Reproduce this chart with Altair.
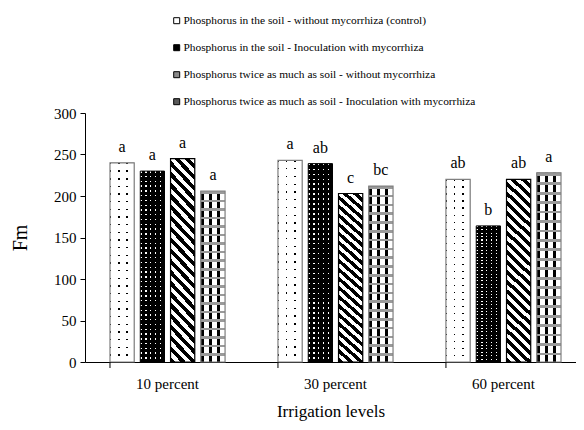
import altair as alt
import pandas as pd

irrigation = ["10 percent", "30 percent", "60 percent"]
series = [
    "Phosphorus in the soil - without mycorrhiza (control)",
    "Phosphorus in the soil - Inoculation with mycorrhiza",
    "Phosphorus twice as much as soil - without mycorrhiza",
    "Phosphorus twice as much as soil - Inoculation with mycorrhiza",
]
s1_values = [240, 243, 220]
s2_values = [230, 239, 164]
s3_values = [245, 203, 220]
s4_values = [206, 212, 228]
s1_letters = ["a", "a", "ab"]
s2_letters = ["a", "ab", "b"]
s3_letters = ["a", "c", "ab"]
s4_letters = ["a", "bc", "a"]
y_ticks = [0, 50, 100, 150, 200, 250, 300]

rows = []
for name, vals, lets in zip(series,
                            [s1_values, s2_values, s3_values, s4_values],
                            [s1_letters, s2_letters, s3_letters, s4_letters]):
    for irr, v, l in zip(irrigation, vals, lets):
        rows.append({"irrigation": irr, "series": name, "value": v, "letter": l})
df = pd.DataFrame(rows)
ticks_df = pd.DataFrame({"irrigation": irrigation})

FONT = "Liberation Serif"
CLEAR = "rgba(0,0,0,0)"


def bands(n, on, off, frac):
    stops = []
    for k in range(n):
        a = round(k / n, 5)
        b = round((k + frac) / n, 5)
        c = round((k + 1) / n, 5)
        stops += [{"offset": a, "color": on}, {"offset": b, "color": on},
                  {"offset": b, "color": off}, {"offset": c, "color": off}]
    return stops


def vgrad(stops):  # horizontal bands
    return {"gradient": "linear", "x1": 0, "y1": 0, "x2": 0, "y2": 1, "stops": stops}


def hgrad(stops):  # vertical bands
    return {"gradient": "linear", "x1": 0, "y1": 0, "x2": 1, "y2": 0, "stops": stops}


diag = {"gradient": "linear", "x1": 0, "y1": 1, "x2": 0.14, "y2": -0.108,
        "stops": bands(21, "black", "white", 0.5)}

x_scale = alt.Scale(domain=irrigation, paddingInner=0.315, paddingOuter=0.119, align=0.625)
x_axis = alt.Axis(title="Irrigation levels", ticks=False, labelAngle=0, labelFontSize=15,
                  labelFont=FONT, titleFont=FONT, labelFontWeight="normal",
                  labelPadding=14, titleFontSize=17, titlePadding=12, titleFontWeight="normal",
                  domainColor="black", labelColor="black", titleColor="black")
y_axis = alt.Axis(title="Fm", values=y_ticks, grid=False, labelFontSize=15, tickSize=5,
                  labelFont=FONT, titleFont=FONT, labelFontWeight="normal",
                  labelPadding=4, titleFontSize=20, titlePadding=23, titleFontWeight="normal",
                  domainColor="black", tickColor="black", labelColor="black", titleColor="black")

base = alt.Chart(df).encode(
    x=alt.X("irrigation:N", sort=irrigation, scale=x_scale, axis=x_axis),
    xOffset=alt.XOffset("series:N", sort=series,
                        scale=alt.Scale(domain=series, paddingInner=0.2, paddingOuter=0)),
    y=alt.Y("value:Q", scale=alt.Scale(domain=[0, 300]), axis=y_axis),
)

legend_layer = base.mark_bar().encode(
    color=alt.Color("series:N", sort=series,
                    scale=alt.Scale(domain=series, range=["white", "black", "#8a8a8a", "#5a5a5a"]),
                    legend=alt.Legend(title=None, orient="none", legendX=86, legendY=-98,
                                      direction="vertical", symbolType="square", symbolSize=36,
                                      symbolStrokeColor="black", symbolStrokeWidth=1,
                                      labelFont=FONT, labelFontSize=11.4, labelLimit=500,
                                      rowPadding=14, labelOffset=1, labelColor="black"))
)


def sel(i):
    return alt.datum.series == series[i]


layers = [legend_layer]
# series 1: white with black dots
layers.append(base.mark_bar(fill="black").transform_filter(sel(0)))
layers.append(base.mark_bar(fill=vgrad(bands(26, CLEAR, "white", 0.18))).transform_filter(sel(0)))
layers.append(base.mark_bar(fill=hgrad(bands(3, CLEAR, "white", 0.18)), stroke="#808080",
                            strokeWidth=1.2).transform_filter(sel(0)))
# series 2: black with white dots
layers.append(base.mark_bar(fill="white").transform_filter(sel(1)))
layers.append(base.mark_bar(fill=vgrad(bands(40, CLEAR, "black", 0.3))).transform_filter(sel(1)))
layers.append(base.mark_bar(fill=hgrad(bands(5, CLEAR, "black", 0.3)), stroke="black",
                            strokeWidth=1).transform_filter(sel(1)))
# series 3: diagonal stripes
layers.append(base.mark_bar(fill=diag, stroke="black", strokeWidth=1.2).transform_filter(sel(2)))
# series 4: checker / grid
layers.append(base.mark_bar(fill="white").transform_filter(sel(3)))
layers.append(base.mark_bar(fill=hgrad(bands(3, "black", CLEAR, 0.4))).transform_filter(sel(3)))
layers.append(base.mark_bar(fill=vgrad(bands(20, "#9a9a9a", CLEAR, 0.3)), stroke="#808080",
                            strokeWidth=1.2).transform_filter(sel(3)))

text_layer = base.mark_text(baseline="alphabetic", dy=-11, fontSize=16, color="black",
                            font=FONT).encode(text="letter:N")
layers.append(text_layer)

tick_layer = alt.Chart(ticks_df).mark_rule(color="black").encode(
    x=alt.X("irrigation:N", sort=irrigation, scale=x_scale, axis=x_axis, bandPosition=0),
    y=alt.value(249), y2=alt.value(255))
layers.append(tick_layer)

chart = alt.layer(*layers).properties(
    width=491, height=249,
    autosize=alt.AutoSizeParams(type="none"),
    padding={"left": 77, "top": 105, "right": 0, "bottom": 60},
).configure(font=FONT).configure_view(stroke=None)

chart.save("out.html", embed_options={"renderer": "svg", "actions": False})
